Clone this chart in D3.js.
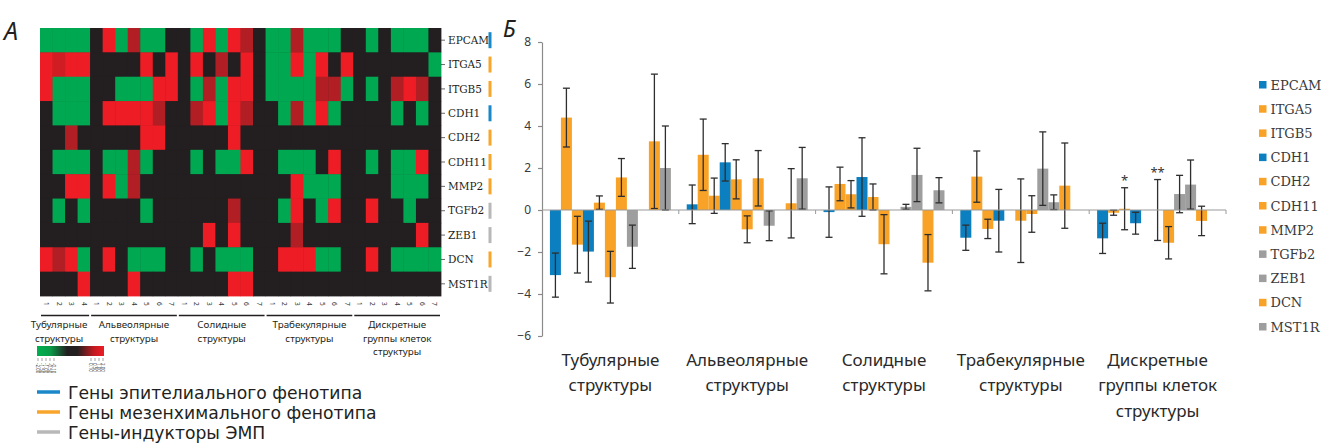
<!DOCTYPE html>
<html>
<head>
<meta charset="utf-8">
<script src="https://cdn.jsdelivr.net/npm/d3@7"></script>
<style>
  body { margin: 0; background: #fff; }
  svg { display: block; }
</style>
</head>
<body>
<div id="chart"></div>
<script>
// genes (rows of heatmap / series of bar chart)
var genes = ["EPCAM", "ITGA5", "ITGB5", "CDH1", "CDH2", "CDH11", "MMP2", "TGFb2", "ZEB1", "DCN", "MST1R"];
var geneType = ["epi", "mes", "mes", "epi", "mes", "mes", "mes", "ind", "ind", "mes", "ind"];
var structures = [
  ["Тубулярные", "структуры"],
  ["Альвеолярные", "структуры"],
  ["Солидные", "структуры"],
  ["Трабекулярные", "структуры"],
  ["Дискретные", "группы клеток", "структуры"]
];
var samplesPerGroup = [4, 7, 7, 7, 7];
var legendLines = ["Гены эпителиального фенотипа", "Гены мезенхимального фенотипа", "Гены-индукторы ЭМП"];

// heatmap: -1 green (down), 0 black, 1 red (up)
var heatValues = [
  [-1,-1,-1,-1,0,1,-1,0.7,-1,-1,0,0,-1,1,-1,1,0.7,0,-1,-1,0.7,-1,-1,-1,0,0,-1,0,-1,-1,-1,0],
  [1,0.85,1,1,0,0,0,0,1,0,1,0,1,0,0.7,0,1,0,-1,-1,1,-1,1,0,1,0,0,0,0,0,0,-1],
  [1,-1,-1,-1,0,0,-1,-1,-1,1,1,0,-1,0.7,-1,1,1,0,-1,-1,-1,-1,0.7,0.7,-1,0,-1,0,0.7,1,0.7,0],
  [0,-1,-1,-1,0,1,1,1,1,0.7,0,0,0.7,1,-1,1,0.7,0,0,-1,0.7,-1,1,-1,0,0,0,0,-1,0,-1,0],
  [0,0,0.7,0,0,0,0,0,1,1,0,0,0,0,0,1,0,0,0,0,0,0,0,0,0,0,0,0,0,0,0,0],
  [0,-1,-1,-1,0,-1,-1,0.7,-1,0,0,0,-1,0,-1,-1,1,0,0,-1,-1,-1,0,1,0,0,-1,0,-1,-1,1,0],
  [0,0,1,1,0,1,-1,0.7,0,0,0,0,0,0,0,0,0,0,0,0,1,-1,-1,-1,0,0,0,0,-1,-1,-1,0],
  [0,-1,0,-1,0,0,0,0,-1,0,0,0,0,0,0,0.7,0,0,0,-1,1,0,-1,1,0,0,1,0,0,-1,0,0],
  [0,0,0,0,0,0,0,0,0,0,0,0,0,1,0,1,0,0,0,0,0.7,0,0,0,0,0,0,0,0,0,1,0],
  [1,0.7,1,-1,0,1,0,-1,-1,-1,0,0,-1,0,-1,-1,-1,0,0,1,1,1,-1,-1,0,0,1,0,-1,-1,-1,-1],
  [0,0,0,1,0,0,0,1,0,0,0,0,0,0,0,1,1,0,0,0,0,0,0,0,0,0,0,0,0,0,0,0]
];
var scaleTicksLeft = ["-2.00", "-1.50", "-1.00", "-0.50", "-0.10"];
var scaleTicksRight = ["0.10", "0.50", "1.00", "2.00"];

// bar chart: mean fold change and error per structure type (gene order as above)
var meanTub  = [-3.1, 4.4, -1.65, -1.98, 0.35, -3.2, 1.55, -1.75, 0, 3.27, 2.0];
var errTub   = [1.05, 1.4, 1.35, 1.45, 0.32, 1.23, 0.9, 1.03, 0, 3.2, 2.0];
var meanAlv  = [0.27, 2.63, 0.68, 2.27, 1.46, -0.92, 1.51, -0.75, 0, 0.32, 1.51];
var errAlv   = [0.92, 1.7, 0.84, 0.89, 0.93, 0.64, 1.32, 0.71, 0, 1.65, 1.47];
var meanSol  = [-0.1, 1.24, 0.75, 1.57, 0.62, -1.63, 0, 0.15, 1.67, -2.51, 0.94];
var errSol   = [1.2, 0.8, 0.65, 1.87, 0.62, 1.41, 0, 0.12, 1.27, 1.34, 0.6];
var meanTrab = [-1.32, 1.59, -0.9, -0.51, 0, -0.51, -0.19, 1.97, 0.37, 1.16, 0];
var errTrab  = [0.6, 1.22, 0.46, 1.49, 0, 1.99, 0.87, 1.75, 0.35, 2.03, 0];
var meanDisc = [-1.35, -0.13, 0.06, -0.63, 0, 0, -1.56, 0.76, 1.21, -0.52, 0];
var errDisc  = [0.72, 0.12, 1.0, 0.52, 0, 1.45, 0.77, 0.89, 1.17, 0.7, 0];
var signifDisc = ["", "", "*", "", "", "**", "", "", "", "", ""];
var yTicks = [-6, -4, -2, 0, 2, 4, 6, 8];

(function() {
  var sans = "'Noto Sans', 'Open Sans', sans-serif",
    wide = "'DejaVu Sans', sans-serif",
    serif = "'DejaVu Serif', serif";
  var typeColor = { epi: "#0b7fc0", mes: "#f8a327", ind: "#9e9e9e" },
    lineColor = { epi: "#1987c8", mes: "#f7a62b", ind: "#b8b8b8" };

  var svg = d3
    .select("#chart")
    .append("svg")
    .attr("width", 1323)
    .attr("height", 443)
    .style("background-color", "white");

  // ---------- panel A: heatmap ----------
  var nCols = d3.sum(samplesPerGroup);
  var hx = d3.scaleBand().domain(d3.range(nCols)).range([40, 441]);
  var hy = d3.scaleBand().domain(genes).range([28, 296]);
  var heatColor = d3.scaleLinear()
    .domain([-1, 0, 1])
    .range(["#00a852", "#231f20", "#ee1d25"]);

  svg.append("text")
    .attr("x", 4).attr("y", 40)
    .attr("font-family", sans).attr("font-style", "italic")
    .attr("font-size", 25).attr("fill", "#231f20")
    .text("А");

  var hm = svg.append("g");
  hm.append("rect")
    .attr("x", 40).attr("y", 28)
    .attr("width", 401).attr("height", 268)
    .attr("fill", "#231f20");

  heatValues.forEach(function(row, r) {
    hm.selectAll(null)
      .data(row)
      .enter()
      .append("rect")
      .attr("x", function(d, i) { return hx(i); })
      .attr("y", hy(genes[r]))
      .attr("width", hx.bandwidth() + 0.4)
      .attr("height", hy.bandwidth() + 0.4)
      .attr("fill", function(d) { return heatColor(d); });
  });

  // row labels with ticks and gene-type bars
  var rl = svg.append("g").selectAll("g").data(genes).enter().append("g")
    .attr("transform", function(d) { return "translate(441," + (hy(d) + hy.bandwidth() / 2) + ")"; });
  rl.append("line").attr("x1", 0).attr("x2", 4).attr("stroke", "#444").attr("stroke-width", 0.8);
  rl.append("text")
    .attr("x", 7).attr("dy", "0.35em")
    .attr("font-family", serif).attr("font-size", 10.5).attr("fill", "#231f20")
    .text(function(d) { return d; });
  rl.append("rect")
    .attr("x", 47.5).attr("y", -8)
    .attr("width", 3).attr("height", 16)
    .attr("fill", function(d, i) { return lineColor[geneType[i]]; });

  // column numbers
  var colLabels = [];
  samplesPerGroup.forEach(function(n) {
    d3.range(1, n + 1).forEach(function(k) { colLabels.push(k); });
  });
  svg.append("g").selectAll("text").data(colLabels).enter().append("text")
    .attr("transform", function(d, i) {
      return "translate(" + (hx(i) + hx.bandwidth() / 2) + ",302) rotate(90)";
    })
    .attr("dy", "0.35em")
    .attr("font-family", sans).attr("font-size", 6.5).attr("fill", "#333")
    .text(function(d) { return d; });

  // group underlines and labels
  var starts = [0];
  samplesPerGroup.forEach(function(n, i) { starts.push(starts[i] + n); });
  var labelShift = [-6, 0, 0, 0, 0];
  var hg = svg.append("g").selectAll("g").data(structures).enter().append("g");
  hg.append("line")
    .attr("x1", function(d, i) { return hx(starts[i]) + 1; })
    .attr("x2", function(d, i) { return hx(starts[i + 1] - 1) + hx.bandwidth() - 1; })
    .attr("y1", 315.5).attr("y2", 315.5)
    .attr("stroke", "#231f20").attr("stroke-width", 1.6);
  hg.each(function(d, i) {
    var cx = (hx(starts[i]) + hx(starts[i + 1] - 1) + hx.bandwidth()) / 2 + labelShift[i];
    d3.select(this).selectAll("text").data(d).enter().append("text")
      .attr("x", cx)
      .attr("y", function(t, j) { return 328 + j * 13.5; })
      .attr("text-anchor", "middle")
      .attr("font-family", sans).attr("font-size", 9.8).attr("fill", "#231f20")
      .text(function(t) { return t; });
  });

  // color scale bar
  var defs = svg.append("defs");
  var grad = defs.append("linearGradient").attr("id", "hmgrad");
  [[0, "#00b050"], [0.2, "#0a9a48"], [0.45, "#231f20"], [0.6, "#231f20"], [0.85, "#c41a20"], [1, "#ee1c24"]]
    .forEach(function(s) {
      grad.append("stop").attr("offset", s[0]).attr("stop-color", s[1]);
    });
  svg.append("rect")
    .attr("x", 37).attr("y", 346).attr("width", 67).attr("height", 10)
    .attr("fill", "url(#hmgrad)");
  var sl = d3.scalePoint().domain(d3.range(5)).range([38, 54]);
  var sr = d3.scalePoint().domain(d3.range(4)).range([91, 103]);
  [[scaleTicksLeft, sl], [scaleTicksRight, sr]].forEach(function(p) {
    var g = svg.append("g").selectAll("g").data(p[0]).enter().append("g")
      .attr("transform", function(d, i) { return "translate(" + p[1](i) + ",358)"; });
    g.append("line").attr("y1", 0).attr("y2", 3).attr("stroke", "#666").attr("stroke-width", 0.6);
    g.append("text")
      .attr("transform", "translate(0,5) rotate(90)")
      .attr("dy", "0.35em")
      .attr("font-family", sans).attr("font-size", 4.5).attr("fill", "#333")
      .text(function(d) { return d; });
  });

  // gene-type legend
  var lg = svg.append("g").selectAll("g").data(legendLines).enter().append("g")
    .attr("transform", function(d, i) { return "translate(37," + (392 + i * 20) + ")"; });
  lg.append("line")
    .attr("x1", 0).attr("x2", 23)
    .attr("stroke", function(d, i) { return lineColor[["epi", "mes", "ind"][i]]; })
    .attr("stroke-width", 3.5);
  lg.append("text")
    .attr("x", 31).attr("y", 6.5)
    .attr("font-family", wide).attr("font-size", 17.2).attr("fill", "#231f20")
    .text(function(d) { return d; });

  // ---------- panel Б: bar chart ----------
  svg.append("text")
    .attr("x", 503).attr("y", 37)
    .attr("font-family", sans).attr("font-style", "italic")
    .attr("font-size", 23).attr("fill", "#231f20")
    .text("Б");

  var groups = [
    { mean: meanTub, err: errTub },
    { mean: meanAlv, err: errAlv },
    { mean: meanSol, err: errSol },
    { mean: meanTrab, err: errTrab },
    { mean: meanDisc, err: errDisc, sig: signifDisc }
  ];

  var x0 = d3.scaleBand().domain(d3.range(structures.length)).range([542, 1226]);
  var x1 = d3.scaleBand().domain(genes).range([0, x0.bandwidth()])
    .paddingInner(0).paddingOuter(0.72);
  var y = d3.scaleLinear().domain([-6, 8]).range([336, 42]);

  var chart = svg.append("g");

  chart.append("g")
    .attr("transform", "translate(542,0)")
    .call(d3.axisLeft(y).tickValues(yTicks).tickSize(4).tickSizeOuter(0).tickPadding(7))
    .call(function(g) {
      g.select(".domain").attr("stroke", "#8a8a8a").attr("stroke-width", 1.2);
      g.selectAll(".tick line").attr("stroke", "#8a8a8a").attr("stroke-width", 1.2);
      g.selectAll(".tick text")
        .attr("font-family", sans).attr("font-size", 12).attr("fill", "#3a3a3a");
    });

  var gg = chart.selectAll(".grp").data(groups).enter().append("g")
    .attr("class", "grp")
    .attr("transform", function(d, i) { return "translate(" + x0(i) + ",0)"; });

  gg.selectAll("rect").data(function(d) {
      return d.mean.map(function(m, k) { return { gene: genes[k], m: m, e: d.err[k], t: geneType[k] }; });
    })
    .enter().append("rect")
    .attr("x", function(d) { return x1(d.gene); })
    .attr("width", x1.bandwidth())
    .attr("y", function(d) { return y(Math.max(0, d.m)); })
    .attr("height", function(d) { return Math.abs(y(d.m) - y(0)); })
    .attr("fill", function(d) { return typeColor[d.t]; });

  // baseline with group dividers
  chart.append("line")
    .attr("x1", 542).attr("x2", 1226)
    .attr("y1", y(0)).attr("y2", y(0))
    .attr("stroke", "#9a9a9a").attr("stroke-width", 1.2);
  chart.selectAll(".div").data(d3.range(1, structures.length + 1)).enter().append("line")
    .attr("x1", function(i) { return x0(i - 1) + x0.bandwidth(); })
    .attr("x2", function(i) { return x0(i - 1) + x0.bandwidth(); })
    .attr("y1", y(0)).attr("y2", y(0) + 4)
    .attr("stroke", "#9a9a9a").attr("stroke-width", 1);

  // error bars
  var eb = gg.selectAll(".eb").data(function(d) {
      return d.mean.map(function(m, k) {
        return { gene: genes[k], m: m, e: d.err[k], s: d.sig ? d.sig[k] : "" };
      }).filter(function(o) { return o.e > 0; });
    })
    .enter().append("g")
    .attr("transform", function(d) { return "translate(" + (x1(d.gene) + x1.bandwidth() / 2) + ",0)"; });
  eb.append("line")
    .attr("y1", function(d) { return y(d.m + d.e); })
    .attr("y2", function(d) { return y(d.m - d.e); })
    .attr("stroke", "#2e2e2e").attr("stroke-width", 1.3);
  [1, -1].forEach(function(sgn) {
    eb.append("line")
      .attr("x1", -3.5).attr("x2", 3.5)
      .attr("y1", function(d) { return y(d.m + sgn * d.e); })
      .attr("y2", function(d) { return y(d.m + sgn * d.e); })
      .attr("stroke", "#2e2e2e").attr("stroke-width", 1.3);
  });
  eb.append("text")
    .attr("y", function(d) { return y(d.m + d.e) - 3; })
    .attr("text-anchor", "middle")
    .attr("font-family", sans).attr("font-size", 13).attr("fill", "#333")
    .text(function(d) { return d.s; });

  // structure labels
  var xl = chart.selectAll(".xl").data(structures).enter().append("g")
    .attr("transform", function(d, i) { return "translate(" + (x0(i) + x0.bandwidth() / 2) + ",0)"; });
  xl.selectAll("text").data(function(d) { return d; }).enter().append("text")
    .attr("y", function(t, j) { return 365.5 + j * 25.5; })
    .attr("text-anchor", "middle")
    .attr("font-family", sans).attr("font-size", 17).attr("fill", "#2a2a2a")
    .text(function(t) { return t; });

  // series legend
  var sl2 = chart.append("g").selectAll("g").data(genes).enter().append("g")
    .attr("transform", function(d, i) { return "translate(1259," + (85 + i * 24.2) + ")"; });
  sl2.append("rect")
    .attr("x", 0).attr("y", -4).attr("width", 7.5).attr("height", 7.5)
    .attr("fill", function(d, i) { return typeColor[geneType[i]]; });
  sl2.append("text")
    .attr("x", 11.5).attr("dy", "0.35em")
    .attr("font-family", serif).attr("font-size", 13).attr("fill", "#3a3a3a")
    .text(function(d) { return d; });
})();
</script>
</body>
</html>
